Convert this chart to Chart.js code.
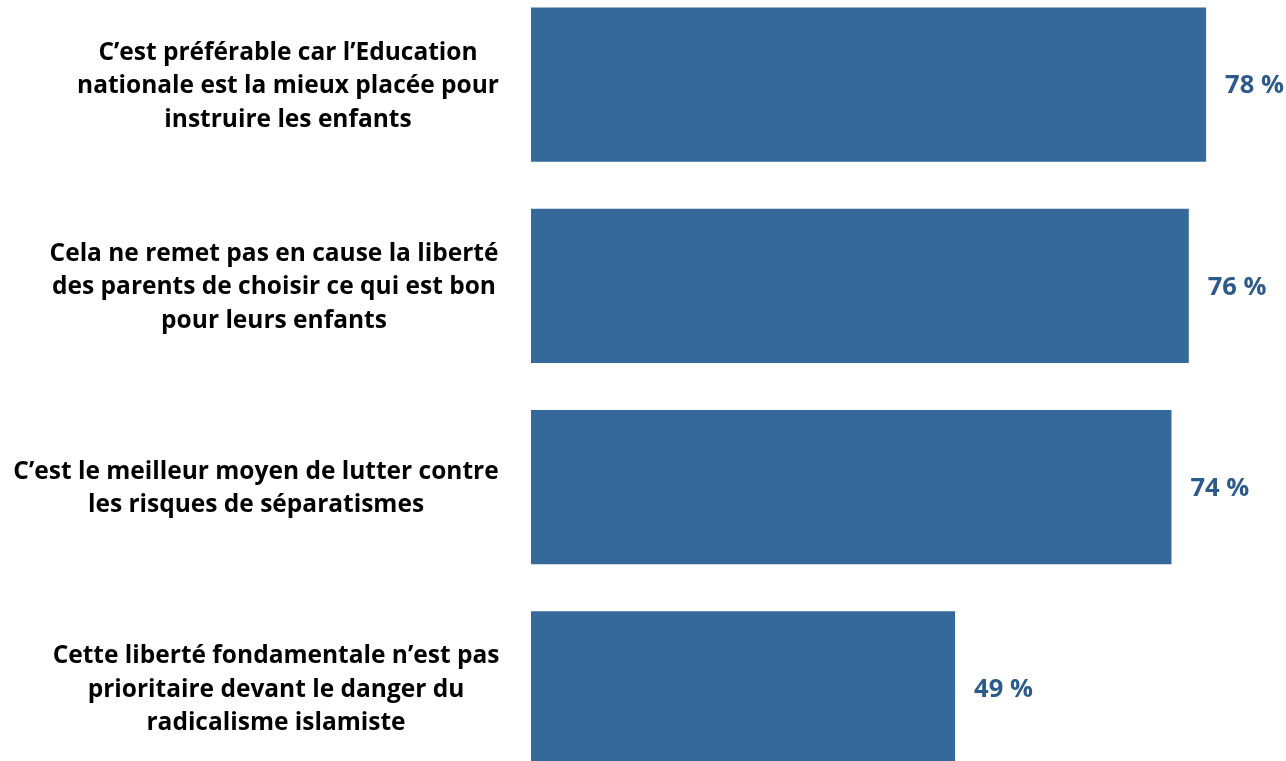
<!DOCTYPE html>
<html>
<head>
<meta charset="utf-8">
<script src="https://cdn.jsdelivr.net/npm/chart.js@4/dist/chart.umd.min.js"></script>
<style>
html,body{margin:0;padding:0;background:#fff;overflow:hidden;width:1286px;height:761px;}
#wrap{position:absolute;left:0;top:-16px;width:1286px;height:805px;}
</style>
</head>
<body>
<div id="wrap"><canvas id="c"></canvas></div>
<script>
const categories = [
  ["C’est préférable car l’Education", "nationale est la mieux placée pour", "instruire les enfants"],
  ["Cela ne remet pas en cause la liberté", "des parents de choisir ce qui est bon", "pour leurs enfants"],
  ["C’est le meilleur moyen de lutter contre", "les risques de séparatismes"],
  ["Cette liberté fondamentale n’est pas", "prioritaire devant le danger du", "radicalisme islamiste"]
];
const values = [78, 76, 74, 49];
const valueLabels = ["78 %", "76 %", "74 %", "49 %"];

const BAR = '#35699A';
const VAL = '#2C5A8A';
const FONT = '"Open Sans", Lato, sans-serif';

const labelPlugin = {
  id: 'labels',
  afterDatasetsDraw(chart, args, opts) {
    const ctx = chart.ctx;
    const yScale = chart.scales.y;
    const meta = chart.getDatasetMeta(0);
    ctx.save();
    ctx.fillStyle = '#000';
    ctx.font = 'bold 24.5px ' + FONT;
    ctx.textAlign = 'center';
    ctx.textBaseline = 'middle';
    const lh = 33.5;
    categories.forEach((lines, i) => {
      const cy = yScale.getPixelForValue(i) + 1.5;
      const cx = opts.centers[i];
      const n = lines.length;
      lines.forEach((t, j) => {
        ctx.fillText(t, cx, cy + (j - (n - 1) / 2) * lh);
      });
    });
    ctx.fillStyle = VAL;
    ctx.font = 'bold 25.5px ' + FONT;
    ctx.textAlign = 'left';
    meta.data.forEach((bar, i) => {
      ctx.fillText(valueLabels[i], bar.x + 19, bar.y + 1.5);
    });
    ctx.restore();
  }
};

new Chart(document.getElementById('c'), {
  type: 'bar',
  data: {
    labels: categories,
    datasets: [{
      data: values,
      backgroundColor: BAR,
      borderWidth: 0,
      barPercentage: 0.766,
      categoryPercentage: 1
    }]
  },
  options: {
    indexAxis: 'y',
    responsive: true,
    maintainAspectRatio: false,
    animation: false,
    layout: { padding: { left: 531, right: 2, top: 0, bottom: 0 } },
    plugins: {
      legend: { display: false },
      tooltip: { enabled: false },
      labels: { centers: [288, 274, 256, 276] }
    },
    scales: {
      x: { display: false, min: 0, max: 87 },
      y: { display: false }
    }
  },
  plugins: [labelPlugin]
});
</script>
</body>
</html>
